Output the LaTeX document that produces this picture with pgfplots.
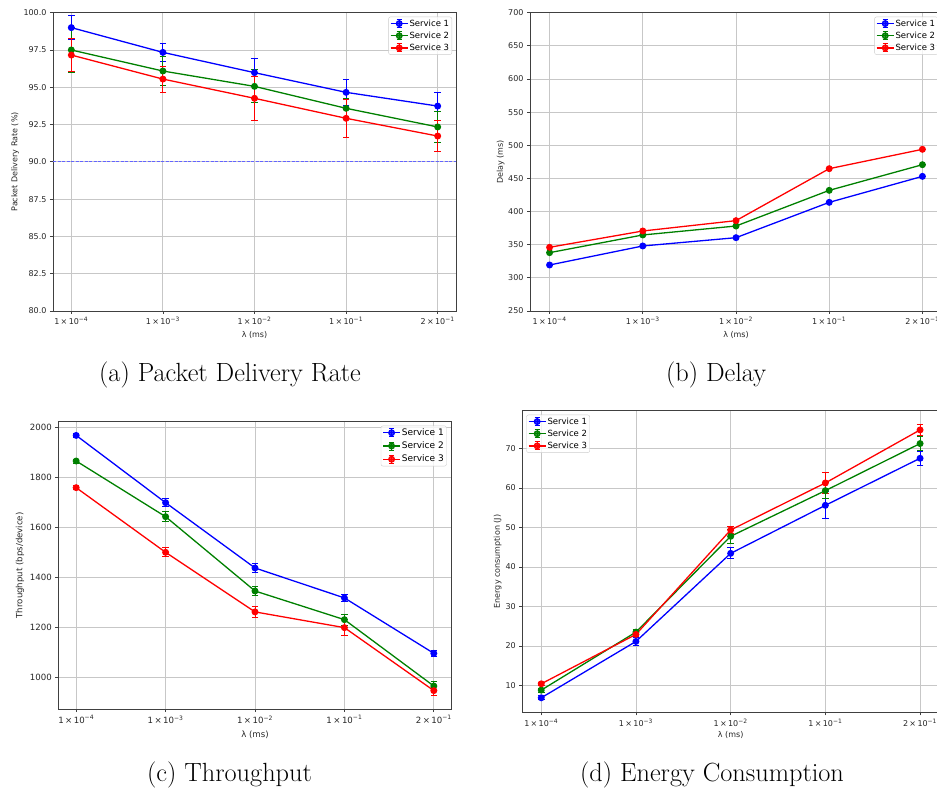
\documentclass[border=0pt]{standalone}
\usepackage{pgfplots}
\pgfplotsset{compat=1.18}
\usepackage{fontspec}
\newfontfamily\dv{DejaVu Sans}
\definecolor{mplblue}{RGB}{0,0,255}
\definecolor{mplgreen}{RGB}{0,128,0}
\definecolor{mplred}{RGB}{255,0,0}
\definecolor{refblue}{RGB}{100,100,255}
\pgfplotsset{
  legend image code/.code={%
    \draw[#1,mark=none,line width=1pt] (8.5pt,-4pt) -- (8.5pt,4pt) (6pt,-4pt) -- (11pt,-4pt) (6pt,4pt) -- (11pt,4pt);
    \draw[#1,mark repeat=2,mark phase=2] plot coordinates {(0pt,0pt) (8.5pt,0pt) (17pt,0pt)};
  },
}
\pgfplotsset{
  mpl/.style={
    scale only axis, anchor=south west,
    axis line style={black!75,line width=0.9pt},
    grid=major, major grid style={black!22,line width=0.9pt},
    tick align=outside, major tick length=3pt, tick style={black!75,line width=0.8pt},
    xtick pos=bottom, ytick pos=left,
    /pgf/number format/assume math mode=true,
    /pgf/number format/1000 sep={},
    xtick={0,1,2,3,4},
    xticklabels={1\,×\,10\textsuperscript{−4}, 1\,×\,10\textsuperscript{−3}, 1\,×\,10\textsuperscript{−2}, 1\,×\,10\textsuperscript{−1}, 2\,×\,10\textsuperscript{−1}},
    xlabel={λ (ms)},
    xmin=-0.2, xmax=4.2,
    legend cell align=left,
    legend style={draw=black!20, rounded corners=2pt, fill=white, fill opacity=0.8, text opacity=1, inner sep=1.5pt, row sep=1.8pt, nodes={inner sep=1.2pt}},
    every axis plot/.append style={line width=1.3pt, mark=*, mark size=2.8pt, mark options={solid}},
  },
  fs/.style={
    ticklabel style={font=\dv\fontsize{#1}{#1}\selectfont, text=black!85},
    label style={font=\dv\fontsize{#1}{#1}\selectfont, text=black!85},
  },
  lf/.style={legend style={font=\dv\fontsize{#1}{#1}\selectfont}},
  eb/.style={error bars/.cd, y dir=both, y explicit,
    error bar style={line width=1pt, color=#1},
    error mark options={rotate=90, line width=1pt, mark size=3.3pt, color=#1}},
}
\begin{document}
\begin{tikzpicture}
\useasboundingbox (0pt,0pt) rectangle (937pt,793pt);
% (a) Packet Delivery Rate
\begin{axis}[mpl, fs=8, lf=8.5, at={(53pt,482pt)}, width=403pt, height=298.3pt,
  ymin=80, ymax=100, ytick={80,82.5,85,87.5,90,92.5,95,97.5,100},
  yticklabel style={/pgf/number format/.cd, fixed, fixed zerofill, precision=1},
  ylabel={Packet Delivery Rate (\%)},
  ylabel style={at={(axis description cs:-0.094,0.5)}, anchor=center},
  xlabel style={at={(axis description cs:0.5,0)}, anchor=center, yshift=-24pt},
  legend style={at={(1,1)}, anchor=north east, xshift=-4pt, yshift=-4pt}]
\addplot[draw=refblue, dash pattern=on 3pt off 1.5pt, line width=0.9pt, mark=none, forget plot] coordinates {(-0.2,90) (4.2,90)};
\addplot[color=mplblue, eb=mplblue] coordinates {(0,99.0) +- (0,0.78) (1,97.34) +- (0,0.58) (2,95.98) +- (0,0.96) (3,94.66) +- (0,0.89) (4,93.74) +- (0,0.94)};
\addlegendentry{Service 1}
\addplot[color=mplgreen, eb=mplgreen] coordinates {(0,97.5) +- (0,1.5) (1,96.09) +- (0,0.95) (2,95.06) +- (0,1.1) (3,93.59) +- (0,0.65) (4,92.34) +- (0,1.03)};
\addlegendentry{Service 2}
\addplot[color=mplred, eb=mplred] coordinates {(0,97.16) +- (0,1.09) (1,95.55) +- (0,0.87) (2,94.26) +- (0,1.47) (3,92.92) +- (0,1.28) (4,91.73) +- (0,1.06)};
\addlegendentry{Service 3}
\end{axis}
% (b) Delay
\begin{axis}[mpl, fs=8, lf=8.5, at={(530pt,482pt)}, width=412pt, height=298.3pt,
  xmin=-0.21, xmax=4.21,
  ymin=250, ymax=700, ytick={250,300,...,700},
  ylabel={Delay (ms)},
  ylabel style={at={(axis description cs:-0.0711,0.5)}, anchor=center},
  xlabel style={at={(axis description cs:0.5,0)}, anchor=center, yshift=-24pt},
  legend style={at={(1,1)}, anchor=north east, xshift=-4pt, yshift=-4pt}]
\addplot[color=mplblue] coordinates {(0,319.4) (1,348.1) (2,360.6) (3,413.9) (4,453.1)};
\addlegendentry{Service 1}
\addplot[color=mplgreen] coordinates {(0,338.0) (1,364.7) (2,378.2) (3,432.0) (4,470.7)};
\addlegendentry{Service 2}
\addplot[color=mplred] coordinates {(0,346.1) (1,370.7) (2,386.3) (3,464.7) (4,493.9)};
\addlegendentry{Service 3}
\end{axis}
% (c) Throughput
\begin{axis}[mpl, fs=8.6, lf=9, at={(58.3pt,84pt)}, width=393.4pt, height=287.3pt,
  ymin=873, ymax=2024, ytick={1000,1200,...,2000},
  ylabel={Throughput (bps/device)},
  ylabel style={at={(axis description cs:-0.0974,0.5)}, anchor=center},
  xlabel style={at={(axis description cs:0.5,0)}, anchor=center, yshift=-26pt},
  legend style={at={(1,1)}, anchor=north east, xshift=-5pt, yshift=-4pt, row sep=2.5pt}]
\addplot[color=mplblue, eb=mplblue] coordinates {(0,1969) +- (0,8) (1,1699.6) +- (0,17) (2,1438) +- (0,19) (3,1318) +- (0,13) (4,1096) +- (0,13)};
\addlegendentry{Service 1}
\addplot[color=mplgreen, eb=mplgreen] coordinates {(0,1866.5) +- (0,8) (1,1643.5) +- (0,20) (2,1345.8) +- (0,19) (3,1231) +- (0,22) (4,965) +- (0,17)};
\addlegendentry{Service 2}
\addplot[color=mplred, eb=mplred] coordinates {(0,1759.7) +- (0,8) (1,1500.7) +- (0,18) (2,1262) +- (0,21) (3,1199) +- (0,32) (4,946.6) +- (0,19)};
\addlegendentry{Service 3}
\end{axis}
% (d) Energy Consumption
\begin{axis}[mpl, fs=8, lf=8.5, at={(522.3pt,80.7pt)}, width=416.7pt, height=301.6pt,
  ymin=3.2, ymax=79.6, ytick={10,20,...,70},
  ylabel={Energy consumption (J)},
  ylabel style={at={(axis description cs:-0.059,0.5)}, anchor=center},
  xlabel style={at={(axis description cs:0.5,0)}, anchor=center, yshift=-23pt},
  legend style={at={(0,1)}, anchor=north west, xshift=4pt, yshift=-4pt}]
\addplot[color=mplblue, eb=mplblue] coordinates {(0,6.87) +- (0,0.5) (1,21.15) +- (0,1.0) (2,43.46) +- (0,1.4) (3,55.63) +- (0,3.4) (4,67.55) +- (0,1.8)};
\addlegendentry{Service 1}
\addplot[color=mplgreen, eb=mplgreen] coordinates {(0,8.82) +- (0,0.5) (1,23.52) +- (0,0.6) (2,47.78) +- (0,1.8) (3,59.35) +- (0,2.0) (4,71.27) +- (0,1.7)};
\addlegendentry{Service 2}
\addplot[color=mplred, eb=mplred] coordinates {(0,10.42) +- (0,0.4) (1,22.93) +- (0,0.6) (2,49.38) +- (0,0.8) (3,61.3) +- (0,2.7) (4,74.73) +- (0,1.4)};
\addlegendentry{Service 3}
\end{axis}
% captions
\node[font=\fontsize{26.3}{30}\selectfont] at (230pt,418pt) {(a) Packet Delivery Rate};
\node[font=\fontsize{26.3}{30}\selectfont] at (716pt,418pt) {(b) Delay};
\node[font=\fontsize{26.3}{30}\selectfont] at (229.5pt,18pt) {(c) Throughput};
\node[font=\fontsize{26.3}{30}\selectfont] at (712pt,18pt) {(d) Energy Consumption};
\end{tikzpicture}
\end{document}
